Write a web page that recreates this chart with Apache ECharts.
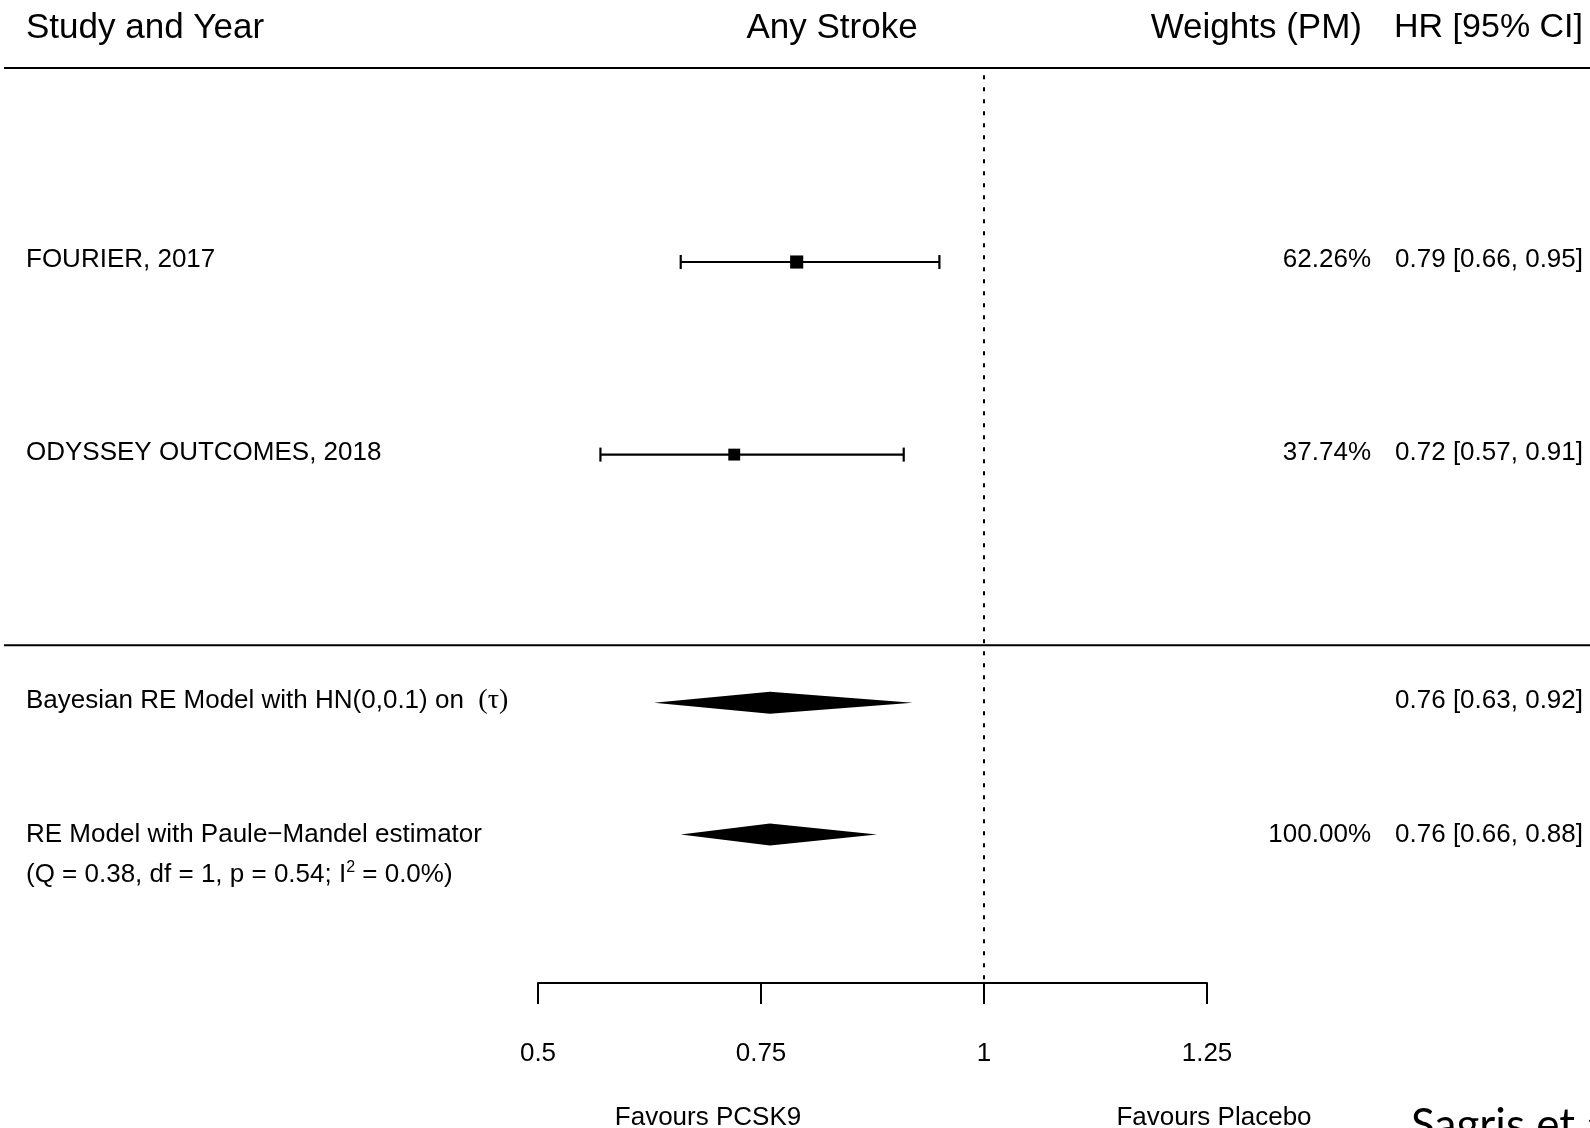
<!DOCTYPE html>
<html>
<head>
<meta charset="utf-8">
<script src="https://cdn.jsdelivr.net/npm/echarts@6/dist/echarts.min.js"></script>
<style>
    html, body {margin:0;padding:0;background:#fff;}
    #forest {width:1590px;height:1128px;}
</style>
</head>
<body>
<div id="forest"></div>
<script>
    // studies
    var studyNames = ['FOURIER, 2017', 'ODYSSEY OUTCOMES, 2018'];
    var studyHR = [0.79, 0.72];
    var studyLow = [0.66, 0.57];
    var studyHigh = [0.95, 0.91];
    var studyWeights = [62.26, 37.74];
    var studyRows = [4.05, 8.07];

    // pooled models
    var modelNames = ['Bayesian RE Model with HN(0,0.1) on  {t|(τ)}', 'RE Model with Paule−Mandel estimator'];
    var modelNotes = ['', '(Q = 0.38, df = 1, p = 0.54; I{s|2} = 0.0%)'];
    var modelHR = [0.76, 0.76];
    var modelLow = [0.63, 0.66];
    var modelHigh = [0.92, 0.88];
    var modelWeights = [null, 100.00];
    var modelRows = [13.25, 16.0];

    var separatorRow = 12.05;
    var headers = ['Study and Year', 'Any Stroke', 'Weights (PM)', 'HR [95% CI]'];
    var favourLabels = ['Favours PCSK9', 'Favours Placebo'];

    var FONT = '"Liberation Sans", Arial, sans-serif';
    var chart = echarts.init(document.getElementById('forest'));

    function hrText(e, l, h) {
        return e.toFixed(2) + ' [' + l.toFixed(2) + ', ' + h.toFixed(2) + ']';
    }

    function txt(text, x, y, align, size) {
        return {
            type: 'text',
            style: {
                text: text, x: x, y: y, fill: '#000',
                fontSize: size || 26, fontFamily: FONT,
                align: align, verticalAlign: 'middle',
                rich: {
                    t: {fontFamily: '"Liberation Serif", "DejaVu Serif", serif', fontSize: 28},
                    s: {fontSize: 16, verticalAlign: 'top', lineHeight: 30}
                }
            }
        };
    }

    var studyData = studyNames.map(function (n, i) {
        return [studyHR[i], studyLow[i], studyHigh[i], studyRows[i], studyWeights[i], i];
    });
    var modelData = modelNames.map(function (n, i) {
        return [modelHR[i], modelLow[i], modelHigh[i], modelRows[i], i];
    });

    var option = {
        animation: false,
        backgroundColor: '#fff',
        grid: {left: 538, right: 383, top: 68, bottom: 145},
        xAxis: {
            type: 'value', min: 0.5, max: 1.25, interval: 0.25, position: 'bottom',
            splitLine: {show: false},
            axisLine: {show: true, onZero: false, lineStyle: {color: '#000', width: 2}},
            axisTick: {show: true, length: 21, lineStyle: {color: '#000', width: 2}},
            axisLabel: {
                color: '#000', fontSize: 26, fontFamily: FONT, margin: 58,
                showMinLabel: true, showMaxLabel: true,
                formatter: function (v) { return String(+v.toFixed(2)); }
            }
        },
        yAxis: {type: 'value', inverse: true, min: 0, max: 19.1, show: false},
        graphic: [
            txt(headers[0], 26, 28, 'left', 35),
            txt(headers[1], 832, 28, 'center', 35),
            txt(headers[2], 1362, 28, 'right', 35),
            txt(headers[3], 1583, 28, 'right', 34),
            txt(favourLabels[0], 708, 1118, 'center', 26),
            txt(favourLabels[1], 1214, 1118, 'center', 26),
            {
                type: 'text',
                style: {
                    text: 'Sagris et al', x: 1411, y: 1126, fill: '#000',
                    fontSize: 44, fontFamily: 'Lato, "Open Sans", sans-serif',
                    align: 'left', verticalAlign: 'middle'
                }
            }
        ],
        series: [
            {
                // rules and reference line
                type: 'custom',
                data: [[0]],
                silent: true,
                renderItem: function (params, api) {
                    var w = api.getWidth();
                    var top = api.coord([1, 0])[1];
                    var sep = api.coord([1, separatorRow])[1];
                    var ref0 = api.coord([1, 0.15]);
                    var ref1 = api.coord([1, 19.1]);
                    return {
                        type: 'group',
                        children: [
                            {type: 'line', shape: {x1: 4, y1: top, x2: w, y2: top}, style: {stroke: '#000', lineWidth: 2}},
                            {type: 'line', shape: {x1: 4, y1: sep, x2: w, y2: sep}, style: {stroke: '#000', lineWidth: 2}},
                            {type: 'line', shape: {x1: ref0[0], y1: ref0[1], x2: ref1[0], y2: ref1[1]},
                                style: {stroke: '#000', lineWidth: 2, lineDash: [4, 8]}}
                        ]
                    };
                }
            },
            {
                // individual studies
                type: 'custom',
                data: studyData,
                renderItem: function (params, api) {
                    var row = api.value(3);
                    var i = api.value(5);
                    var pe = api.coord([api.value(0), row]);
                    var pl = api.coord([api.value(1), row]);
                    var ph = api.coord([api.value(2), row]);
                    var s = 10 + api.value(4) / 100 * 5;
                    var cap = 7;
                    var ln = {stroke: '#000', lineWidth: 2.2};
                    return {
                        type: 'group',
                        children: [
                            {type: 'line', shape: {x1: pl[0], y1: pl[1], x2: ph[0], y2: ph[1]}, style: ln},
                            {type: 'line', shape: {x1: pl[0], y1: pl[1] - cap, x2: pl[0], y2: pl[1] + cap}, style: ln},
                            {type: 'line', shape: {x1: ph[0], y1: ph[1] - cap, x2: ph[0], y2: ph[1] + cap}, style: ln},
                            {type: 'rect', shape: {x: pe[0] - s / 2, y: pe[1] - s / 2, width: s, height: s}, style: {fill: '#000'}},
                            txt(studyNames[i], 26, pe[1] - 2, 'left'),
                            txt(studyWeights[i].toFixed(2) + '%', 1371, pe[1] - 2, 'right'),
                            txt(hrText(studyHR[i], studyLow[i], studyHigh[i]), 1583, pe[1] - 2, 'right')
                        ]
                    };
                }
            },
            {
                // pooled estimates
                type: 'custom',
                data: modelData,
                renderItem: function (params, api) {
                    var row = api.value(3);
                    var i = api.value(4);
                    var pe = api.coord([api.value(0), row]);
                    var pl = api.coord([api.value(1), row]);
                    var ph = api.coord([api.value(2), row]);
                    var h = 11;
                    var dy = i === 0 ? -2 : 0;
                    var kids = [
                        {type: 'polygon', shape: {points: [[pl[0], pe[1]], [pe[0], pe[1] - h], [ph[0], pe[1]], [pe[0], pe[1] + h]]},
                            style: {fill: '#000'}},
                        txt(modelNames[i], 26, pe[1] + dy, 'left'),
                        txt(hrText(modelHR[i], modelLow[i], modelHigh[i]), 1583, pe[1] + dy, 'right')
                    ];
                    if (modelNotes[i]) kids.push(txt(modelNotes[i], 26, pe[1] + 40, 'left'));
                    if (modelWeights[i] != null) kids.push(txt(modelWeights[i].toFixed(2) + '%', 1371, pe[1] + dy, 'right'));
                    return {type: 'group', children: kids};
                }
            }
        ]
    };
    chart.setOption(option);
</script>
</body>
</html>
